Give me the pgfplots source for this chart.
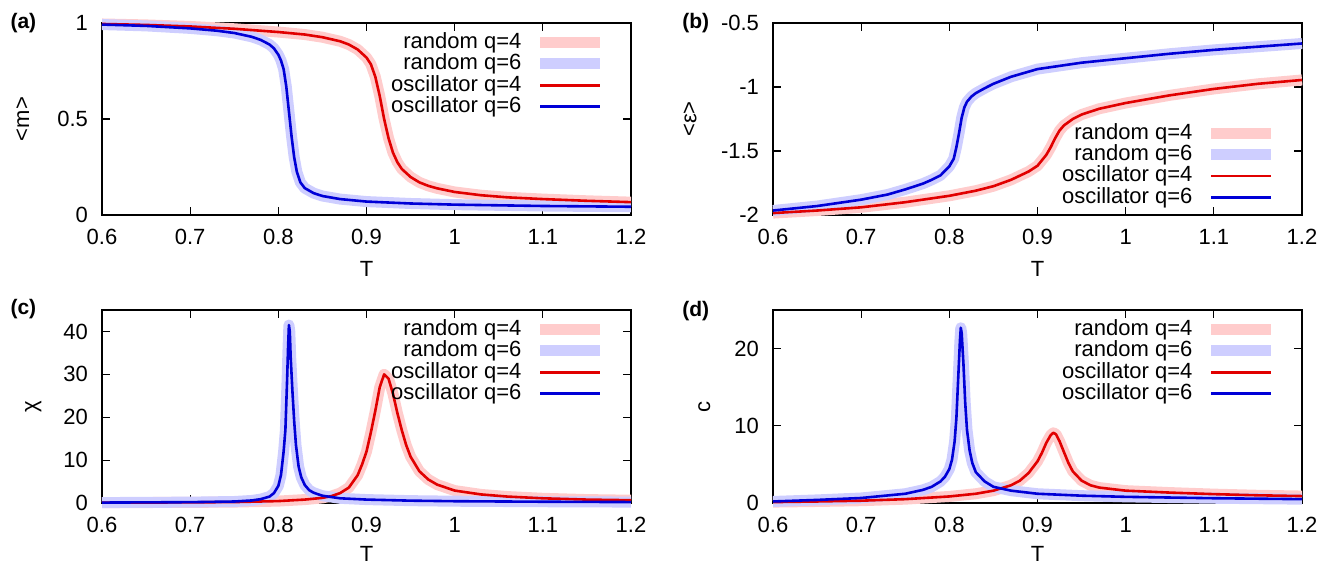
\documentclass[border=0pt]{standalone}
\usepackage{fontspec}
\setmainfont{Liberation Sans}
\usepackage{pgfplots}
\usepackage{pgfplotstable}
\pgfplotsset{compat=1.18}

\definecolor{palered}{RGB}{255,204,204}
\definecolor{paleblue}{RGB}{206,206,255}
\definecolor{darkred}{RGB}{225,0,0}
\definecolor{darkblue}{RGB}{0,0,215}

% (a) magnetisation
\pgfplotstableread{
T m
0.60 0.995
0.65 0.990
0.70 0.982
0.75 0.970
0.80 0.953
0.83 0.940
0.85 0.926
0.87 0.905
0.88 0.888
0.89 0.862
0.90 0.820
0.905 0.785
0.91 0.720
0.915 0.620
0.92 0.500
0.925 0.400
0.93 0.325
0.935 0.275
0.94 0.240
0.95 0.198
0.96 0.170
0.97 0.152
0.98 0.139
1.00 0.120
1.03 0.103
1.06 0.092
1.10 0.083
1.15 0.074
1.20 0.067
}\mqfour
\pgfplotstableread{
T m
0.60 0.992
0.65 0.985
0.70 0.972
0.73 0.960
0.75 0.948
0.77 0.928
0.78 0.912
0.79 0.888
0.795 0.868
0.800 0.835
0.803 0.805
0.806 0.760
0.809 0.670
0.812 0.540
0.815 0.410
0.818 0.300
0.821 0.225
0.825 0.170
0.83 0.140
0.84 0.114
0.85 0.099
0.87 0.083
0.90 0.070
0.95 0.060
1.00 0.054
1.10 0.047
1.20 0.043
}\mqsix

% (b) energy
\pgfplotstableread{
T e
0.60 -1.985
0.65 -1.965
0.70 -1.940
0.75 -1.900
0.80 -1.850
0.83 -1.810
0.85 -1.775
0.87 -1.725
0.89 -1.660
0.90 -1.615
0.91 -1.530
0.915 -1.470
0.92 -1.400
0.925 -1.340
0.93 -1.300
0.94 -1.250
0.95 -1.215
0.97 -1.170
1.00 -1.125
1.05 -1.065
1.10 -1.015
1.15 -0.975
1.20 -0.945
}\eqfour
\pgfplotstableread{
T e
0.60 -1.965
0.65 -1.930
0.70 -1.880
0.73 -1.840
0.75 -1.800
0.77 -1.755
0.78 -1.725
0.79 -1.690
0.800 -1.620
0.805 -1.560
0.808 -1.470
0.811 -1.360
0.814 -1.240
0.817 -1.160
0.820 -1.115
0.825 -1.075
0.83 -1.048
0.84 -1.010
0.85 -0.975
0.87 -0.920
0.90 -0.860
0.95 -0.810
1.00 -0.775
1.05 -0.740
1.10 -0.710
1.15 -0.685
1.20 -0.660
}\eqsix

% (c) susceptibility
\pgfplotstableread{
T chi
0.60 0.08
0.70 0.15
0.75 0.22
0.80 0.45
0.83 0.80
0.85 1.20
0.86 1.60
0.87 2.30
0.88 3.60
0.89 6.50
0.895 9.00
0.90 12.0
0.905 16.5
0.91 21.5
0.915 27.0
0.92 30.0
0.925 29.0
0.93 25.5
0.935 21.0
0.94 17.0
0.945 13.5
0.95 10.8
0.96 7.4
0.97 5.5
0.98 4.3
1.00 2.9
1.03 2.0
1.06 1.5
1.10 1.1
1.15 0.8
1.20 0.65
}\cqfour
\pgfplotstableread{
T chi
0.60 0.10
0.70 0.20
0.75 0.35
0.77 0.60
0.78 0.90
0.79 1.50
0.795 2.30
0.800 4.00
0.803 6.50
0.806 12.0
0.808 17.0
0.810 29.0
0.811 36.0
0.812 41.5
0.813 40.0
0.814 34.0
0.816 26.0
0.818 19.0
0.820 13.5
0.823 8.5
0.826 6.0
0.83 4.2
0.835 3.0
0.84 2.4
0.85 1.7
0.87 1.1
0.90 0.8
0.95 0.55
1.00 0.42
1.10 0.30
1.20 0.22
}\cqsix

% (d) specific heat
\pgfplotstableread{
T c
0.60 0.12
0.65 0.20
0.70 0.30
0.75 0.50
0.80 0.85
0.83 1.20
0.85 1.60
0.87 2.30
0.88 2.90
0.89 3.90
0.90 5.40
0.905 6.50
0.91 7.80
0.915 8.80
0.918 9.10
0.921 8.90
0.925 8.00
0.93 6.60
0.935 5.20
0.94 4.10
0.95 2.90
0.96 2.30
0.97 2.00
1.00 1.60
1.05 1.35
1.10 1.15
1.15 1.00
1.20 0.90
}\sqfour
\pgfplotstableread{
T c
0.60 0.20
0.65 0.40
0.70 0.65
0.75 1.20
0.77 1.70
0.78 2.10
0.79 2.80
0.795 3.40
0.800 4.40
0.803 5.60
0.806 8.00
0.808 11.0
0.810 16.0
0.812 21.0
0.813 22.7
0.814 22.0
0.816 18.0
0.818 13.0
0.820 9.50
0.823 6.80
0.826 5.20
0.83 4.00
0.84 2.80
0.85 2.10
0.87 1.60
0.90 1.20
0.95 0.95
1.00 0.80
1.10 0.62
1.20 0.50
}\sqsix

\pgfplotsset{
  panel/.style={
    scale only axis, width=264.5pt, height=96pt,
    xmin=0.6, xmax=1.2, xtick={0.6,0.7,0.8,0.9,1,1.1,1.2},
    tick align=inside, tick pos=both, major tick length=4pt,
    axis line style={line width=0.7pt},
    every tick/.append style={black, line width=0.6pt},
    tick label style={font=\fontsize{11}{13}\selectfont},
    /pgf/number format/assume math mode=true,
    xticklabel style={yshift=-3.5pt}, yticklabel style={xshift=-3.5pt},
    xlabel={T},
    label style={font=\fontsize{11}{13}\selectfont},
    x label style={at={(axis description cs:0.5,-0.28)}, anchor=center},
    clip=false,
    legend cell align=right, legend plot pos=right,
    legend image code/.code={\draw[##1] (0pt,0pt) -- (30pt,0pt);},
    legend style={draw=none, fill=none, inner sep=0pt, column sep=6.5pt,
      font=\fontsize{11}{13}\selectfont,
      nodes={inner sep=0.25pt, text height=8pt, text depth=2.15pt},
      at={(1,1)}, anchor=north east, xshift=-12.35pt, yshift=-4.3pt},
  },
  rnd4/.style={palered, line width=5.5pt, line join=round},
  rnd6/.style={paleblue, line width=5.5pt, line join=round},
  osc4/.style={darkred, line width=1.3pt, line join=round},
  osc6/.style={darkblue, line width=1.3pt, line join=round},
}

\begin{document}
\begin{tikzpicture}
\useasboundingbox (0,0) rectangle (666pt,-282pt);

\begin{axis}[panel, at={(51pt,-107.5pt)}, anchor=south west,
  ymin=0, ymax=1, ytick={0,0.5,1}, ylabel={<m>},
  y label style={at={(axis description cs:-0.15,0.5)}, anchor=center}]
\addplot[rnd4] table[x=T,y=m] {\mqfour};
\addplot[rnd6] table[x=T,y=m] {\mqsix};
\addplot[osc4] table[x=T,y=m] {\mqfour};
\addplot[osc6] table[x=T,y=m] {\mqsix};
\legend{random q=4, random q=6, oscillator q=4, oscillator q=6}
\end{axis}

\begin{axis}[panel, at={(386.5pt,-107.5pt)}, anchor=south west,
  ymin=-2, ymax=-0.5, ytick={-2,-1.5,-1,-0.5}, ylabel={<ε>},
  y label style={at={(axis description cs:-0.157,0.5)}, anchor=center},
  legend style={at={(1,0)}, anchor=south east, yshift=7.6pt}]
\addplot[rnd4] table[x=T,y=e] {\eqfour};
\addplot[rnd6] table[x=T,y=e] {\eqsix};
\addplot[osc4] table[x=T,y=e] {\eqfour};
\addplot[osc6] table[x=T,y=e] {\eqsix};
\legend{random q=4, random q=6, oscillator q=4, oscillator q=6}
\end{axis}

\begin{axis}[panel, at={(51pt,-251.5pt)}, anchor=south west, height=96.5pt,
  ymin=0, ymax=45, ytick={0,10,20,30,40}, ylabel={χ},
  x label style={at={(axis description cs:0.5,-0.262)}},
  y label style={at={(axis description cs:-0.13,0.5)}, anchor=center}]
\addplot[rnd4] table[x=T,y=chi] {\cqfour};
\addplot[rnd6] table[x=T,y=chi] {\cqsix};
\addplot[osc4] table[x=T,y=chi] {\cqfour};
\addplot[osc6] table[x=T,y=chi] {\cqsix};
\legend{random q=4, random q=6, oscillator q=4, oscillator q=6}
\end{axis}

\begin{axis}[panel, at={(386.5pt,-251.5pt)}, anchor=south west, height=96.5pt,
  ymin=0, ymax=25, ytick={0,10,20}, ylabel={c},
  x label style={at={(axis description cs:0.5,-0.262)}},
  y label style={at={(axis description cs:-0.13,0.5)}, anchor=center}]
\addplot[rnd4] table[x=T,y=c] {\sqfour};
\addplot[rnd6] table[x=T,y=c] {\sqsix};
\addplot[osc4] table[x=T,y=c] {\sqfour};
\addplot[osc6] table[x=T,y=c] {\sqsix};
\legend{random q=4, random q=6, oscillator q=4, oscillator q=6}
\end{axis}

\node[font=\bfseries\fontsize{10.5}{12}\selectfont] at (11.7pt,-11.75pt) {(a)};
\node[font=\bfseries\fontsize{10.5}{12}\selectfont] at (347.9pt,-11.5pt) {(b)};
\node[font=\bfseries\fontsize{10.5}{12}\selectfont] at (11.7pt,-154.3pt) {(c)};
\node[font=\bfseries\fontsize{10.5}{12}\selectfont] at (347.9pt,-155.5pt) {(d)};
\end{tikzpicture}
\end{document}
